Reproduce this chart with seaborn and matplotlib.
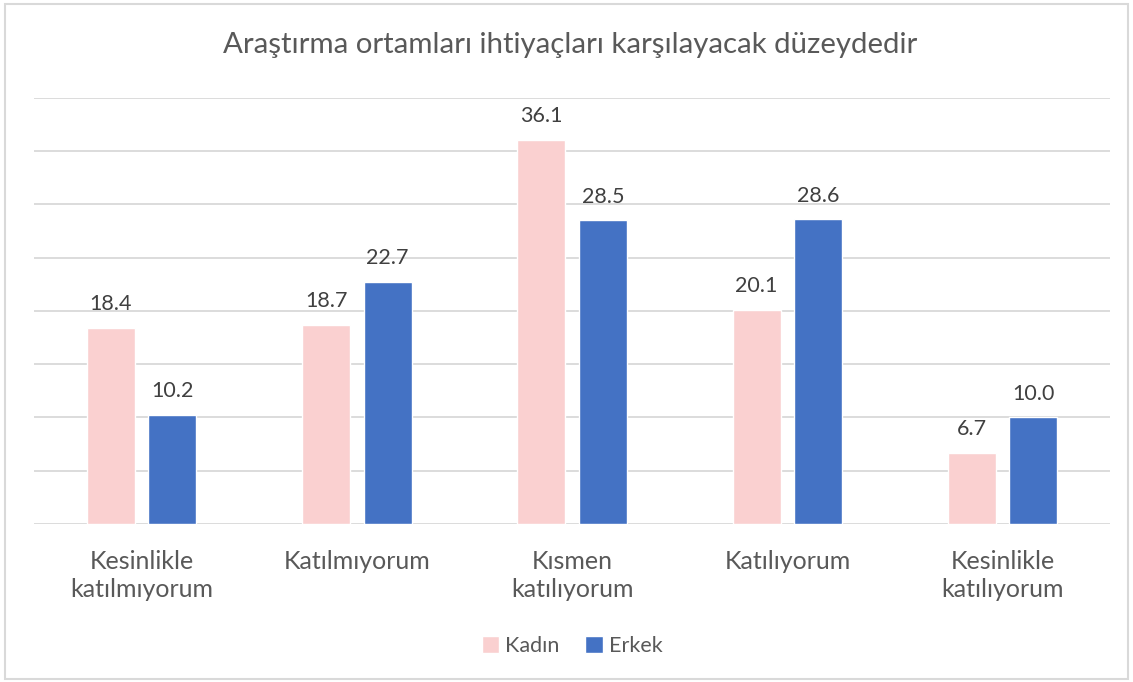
import matplotlib
matplotlib.use("Agg")
import matplotlib.pyplot as plt
import seaborn as sns
import pandas as pd
from matplotlib.patches import Rectangle

# veriler
categories = ["Kesinlikle\nkatılmıyorum", "Katılmıyorum", "Kısmen\nkatılıyorum",
              "Katılıyorum", "Kesinlikle\nkatılıyorum"]
kadin = [18.4, 18.7, 36.1, 20.1, 6.7]
erkek = [10.2, 22.7, 28.5, 28.6, 10.0]
series_names = ["Kadın", "Erkek"]
colors = ["#FAD0D0", "#4472C4"]
title = "Araştırma ortamları ihtiyaçları karşılayacak düzeydedir"

df = pd.DataFrame({
    "kategori": categories * 2,
    "cinsiyet": [series_names[0]] * len(categories) + [series_names[1]] * len(categories),
    "deger": kadin + erkek,
})

sns.set_style("white")
plt.rcParams["font.family"] = ["Lato", "DejaVu Sans"]

fig = plt.figure(figsize=(11.33, 6.82), dpi=100)
ax = fig.add_axes([0.030, 0.2317, 0.950, 0.6246])

sns.barplot(data=df, x="kategori", y="deger", hue="cinsiyet", palette=colors,
            width=0.572, gap=0.22, saturation=1, ax=ax, legend=True)

for c in ax.containers:
    ax.bar_label(c, fmt="%.1f", padding=10, fontsize=15.5, color="#404040")

ax.set_ylim(0, 40)
ax.set_yticks(range(0, 41, 5))
ax.set_yticklabels([])
ax.yaxis.grid(True, color="#D9D9D9", linewidth=1.3)
ax.set_axisbelow(True)
ax.tick_params(axis="y", length=0)
ax.tick_params(axis="x", length=0, pad=19, labelsize=18, labelcolor="#595959")
for lab in ax.get_xticklabels():
    lab.set_linespacing(1.25)
ax.set_xlabel("")
ax.set_ylabel("")
for s in ax.spines.values():
    s.set_visible(False)

ax.legend(loc="center", bbox_to_anchor=(0.5, -0.286), ncol=2, frameon=False,
          fontsize=15.5, labelcolor="#595959", handlelength=0.8, handleheight=0.8,
          handletextpad=0.3, columnspacing=1.2)

fig.text(0.503, 0.934, title, ha="center", va="center", fontsize=21.2, color="#595959")

fig.patches.append(Rectangle((0.004, 0.004), 0.992, 0.99, transform=fig.transFigure,
                             fill=False, edgecolor="#D9D9D9", linewidth=1.5))

fig.savefig("out.png", dpi=100)
